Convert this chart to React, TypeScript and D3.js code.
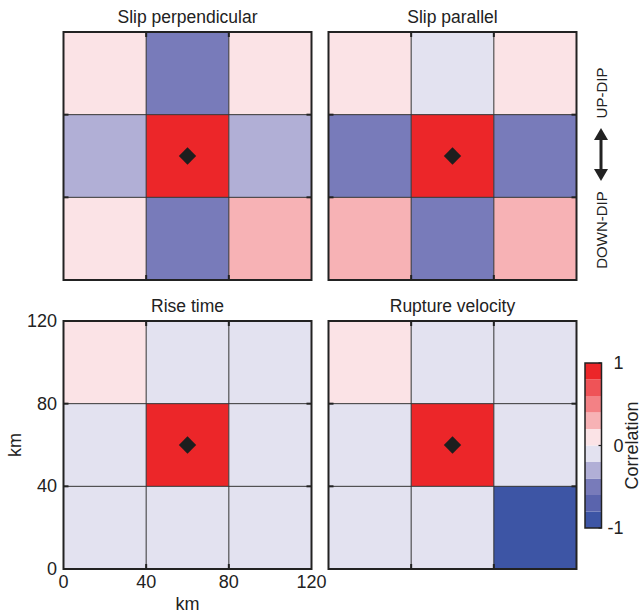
import React from "react";
import * as d3 from "d3";

// Correlation of each 40 km cell with the central (hypocentre) cell, rows listed top to bottom.
const slipPerpendicular = [
  [0.1, -0.5, 0.1],
  [-0.3, 1, -0.3],
  [0.1, -0.5, 0.3],
];
const slipParallel = [
  [0.1, -0.1, 0.1],
  [-0.5, 1, -0.5],
  [0.3, -0.5, 0.3],
];
const riseTime = [
  [0.1, -0.1, -0.1],
  [-0.1, 1, -0.1],
  [-0.1, -0.1, -0.1],
];
const ruptureVelocity = [
  [0.1, -0.1, -0.1],
  [-0.1, 1, -0.1],
  [-0.1, -0.1, -0.9],
];
const panelTitles = ["Slip perpendicular", "Slip parallel", "Rise time", "Rupture velocity"];
const kmTicks = [0, 40, 80, 120];
const hypocentre = [60, 60];
const colorTicks = [-1, 0, 1];
const colorLevels = [
  "#3d55a5",
  "#5a64ad",
  "#787bba",
  "#b1afd6",
  "#e3e2f0",
  "#fbe3e6",
  "#f7b2b5",
  "#f38185",
  "#ef5357",
  "#ec2629",
];

const FONT = "'Liberation Sans', Arial, Helvetica, sans-serif";
const SIZE = 248;
const INK = "#222";

const color = d3.scaleQuantize<string>().domain([-1, 1]).range(colorLevels);
const x = d3.scaleLinear().domain([0, 120]).range([0, SIZE]);
const y = d3.scaleLinear().domain([0, 120]).range([SIZE, 0]);

const diamond = d3.symbol().type(d3.symbolSquare).size(150)();

function Panel({ title, values, left, top, axes }: { title: string; values: number[][]; left: number; top: number; axes: boolean }) {
  const n = values.length;
  const step = 120 / n;
  const inner = kmTicks.slice(1, -1);
  return (
    <g transform={`translate(${left},${top})`}>
      <text x={SIZE / 2} y={-9} textAnchor="middle" fontSize={17.5} fill={INK}>
        {title}
      </text>
      {values.map((row, r) =>
        row.map((v, c) => (
          <rect
            key={`${r}-${c}`}
            x={x(c * step)}
            y={y(120 - r * step)}
            width={x((c + 1) * step) - x(c * step)}
            height={y(120 - (r + 1) * step) - y(120 - r * step)}
            fill={color(v)}
          />
        ))
      )}
      {inner.map((t) => (
        <g key={t}>
          <line x1={x(t)} x2={x(t)} y1={0} y2={SIZE} stroke="#333" strokeWidth={1} />
          <line x1={0} x2={SIZE} y1={y(t)} y2={y(t)} stroke="#333" strokeWidth={1} />
          <line x1={x(t)} x2={x(t)} y1={0} y2={5} stroke={INK} strokeWidth={2} />
          <line x1={x(t)} x2={x(t)} y1={SIZE - 5} y2={SIZE} stroke={INK} strokeWidth={2} />
          <line x1={0} x2={5} y1={y(t)} y2={y(t)} stroke={INK} strokeWidth={2} />
          <line x1={SIZE - 5} x2={SIZE} y1={y(t)} y2={y(t)} stroke={INK} strokeWidth={2} />
        </g>
      ))}
      <rect x={0} y={0} width={SIZE} height={SIZE} fill="none" stroke={INK} strokeWidth={2} />
      <path d={diamond} transform={`translate(${x(hypocentre[0])},${y(hypocentre[1])}) rotate(45)`} fill="#1e1e1e" />
      {axes && (
        <g fontSize={18} fill={INK}>
          {kmTicks.map((t) => (
            <text key={`y${t}`} x={-6.5} y={y(t)} textAnchor="end" dominantBaseline="central">
              {t}
            </text>
          ))}
          {kmTicks.map((t) => (
            <text key={`x${t}`} x={x(t)} y={SIZE + 19} textAnchor="middle">
              {t}
            </text>
          ))}
          <text x={SIZE / 2} y={SIZE + 41} textAnchor="middle">
            km
          </text>
          <text transform={`translate(${-42.5},${SIZE / 2}) rotate(-90)`} textAnchor="middle">
            km
          </text>
        </g>
      )}
    </g>
  );
}

function ColorBar({ left, top, width, height }: { left: number; top: number; width: number; height: number }) {
  const cy = d3.scaleLinear().domain([-1, 1]).range([top + height, top]);
  const edges = d3.range(colorLevels.length + 1).map((i) => -1 + (2 * i) / colorLevels.length);
  return (
    <g>
      {colorLevels.map((c, i) => (
        <rect key={c} x={left} y={cy(edges[i + 1])} width={width} height={cy(edges[i]) - cy(edges[i + 1])} fill={c} />
      ))}
      <rect x={left} y={top} width={width} height={height} fill="none" stroke={INK} strokeWidth={1.5} />
      {colorTicks.map((t) => (
        <g key={t}>
          <line x1={left + width - 3} x2={left + width} y1={cy(t)} y2={cy(t)} stroke={INK} strokeWidth={1.2} />
          <text x={left + width + 22} y={cy(t)} textAnchor="end" dominantBaseline="central" fontSize={18} fill={INK}>
            {t}
          </text>
        </g>
      ))}
      <text
        transform={`translate(${left + width + 36},${top + height / 2}) rotate(-90)`}
        textAnchor="middle"
        fontSize={18}
        fill={INK}
      >
        Correlation
      </text>
    </g>
  );
}

function DipArrow({ cx, top, bottom }: { cx: number; top: number; bottom: number }) {
  const head = 12;
  const half = 7;
  return (
    <g fill={INK} stroke="none">
      <path d={`M${cx},${top} L${cx + half},${top + head} L${cx - half},${top + head} Z`} />
      <path d={`M${cx},${bottom} L${cx + half},${bottom - head} L${cx - half},${bottom - head} Z`} />
      <rect x={cx - 1.5} y={top + head - 1} width={3} height={bottom - top - 2 * head + 2} />
    </g>
  );
}

export default function App() {
  const datasets = [slipPerpendicular, slipParallel, riseTime, ruptureVelocity];
  const lefts = [63.5, 328.5];
  const tops = [32, 321];
  return (
    <svg
      width={640}
      height={614}
      style={{ position: "absolute", left: 0, top: 0, background: "#fff" }}
      fontFamily={FONT}
    >
      {datasets.map((values, i) => (
        <Panel
          key={panelTitles[i]}
          title={panelTitles[i]}
          values={values}
          left={lefts[i % 2]}
          top={tops[Math.floor(i / 2)]}
          axes={i === 2}
        />
      ))}
      <text transform="translate(606.5,93) rotate(-90)" textAnchor="middle" fontSize={15} fill={INK}>
        UP-DIP
      </text>
      <DipArrow cx={601} top={128} bottom={181} />
      <text transform="translate(606.5,230) rotate(-90)" textAnchor="middle" fontSize={15} fill={INK}>
        DOWN-DIP
      </text>
      <ColorBar left={585} top={363} width={16.5} height={165} />
    </svg>
  );
}
